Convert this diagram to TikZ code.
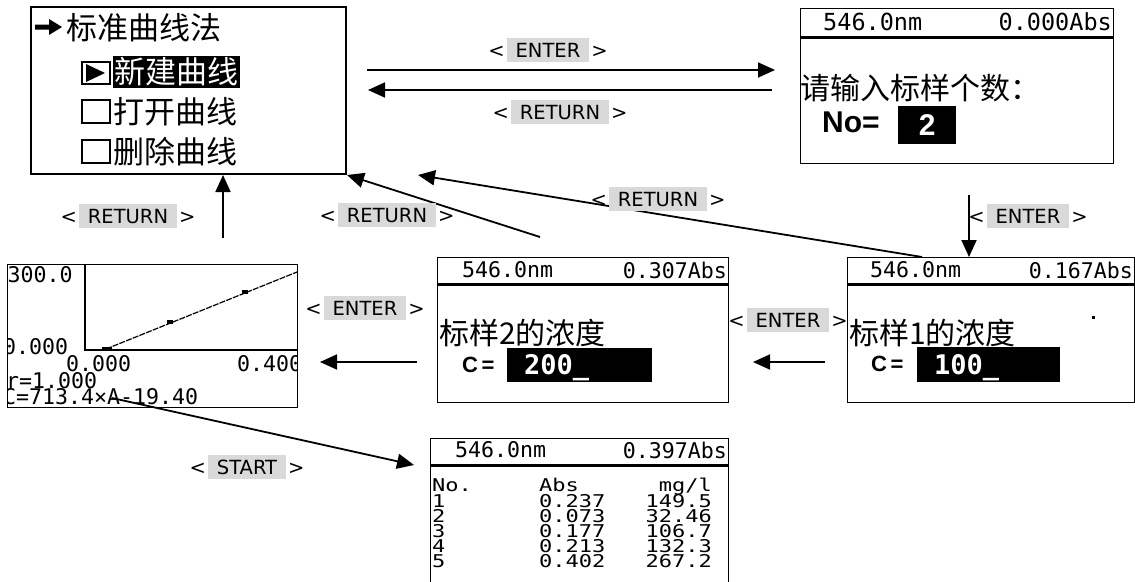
\documentclass[tikz,border=0pt]{standalone}
\usepackage{fontspec}
\usepackage{xcolor}
\usepackage{graphicx}
\usepackage{tikz}
\usetikzlibrary{arrows.meta, positioning, calc}
\newfontfamily\cjk{Noto Sans CJK SC}
\newfontfamily\lcd{DejaVu Sans Mono}
\newfontfamily\keyfont{DejaVu Sans}
\newfontfamily\boldsans{Liberation Sans}
\definecolor{keygray}{RGB}{217,217,217}
\setlength{\fboxsep}{0pt}
\newcommand{\keyname}[1]{<\hspace{2pt}\colorbox{keygray}{\rule[-5pt]{0pt}{24pt}\hspace{9pt}#1\hspace{9pt}}\hspace{2pt}>}
\newcommand{\squash}[1]{\scalebox{1}[0.8]{#1}}

\begin{document}
\begin{tikzpicture}[x=1pt, y=-1pt,
  screen/.style={draw, line width=1.3pt, inner sep=0pt, anchor=north west},
  hdrline/.style={line width=3pt},
  flow/.style={line width=1.8pt, -{Triangle[length=17pt, width=15pt]}},
  keylabel/.style={font=\keyfont\fontsize{19.5}{22}\selectfont, inner sep=0pt},
  lcdtext/.style={font=\lcd\fontsize{21.6}{22}\selectfont, inner sep=0pt},
  tabtext/.style={font=\lcd\fontsize{22}{22}\selectfont, inner sep=0pt},
  zh/.style={font=\cjk\fontsize{30}{32}\selectfont, inner sep=0pt},
  menutext/.style={font=\cjk\fontsize{31}{33}\selectfont, inner sep=0pt},
  boldtext/.style={font=\boldsans\bfseries\fontsize{22}{24}\selectfont, inner sep=0pt},
  fieldtext/.style={font=\lcd\bfseries\fontsize{27}{28}\selectfont, text=white, inner sep=0pt},
  field/.style={fill=black, inner sep=0pt, anchor=north west}]
  \useasboundingbox (0,0) rectangle (1135,581);
  % ================================================================
  % main menu
  % ================================================================
  \node[draw, line width=2.2pt, anchor=north west, minimum width=315, minimum height=167, inner sep=0pt] (menu) at (30,6) {};
  \fill (35,24.5) -- (49,24.5) -- (49,19) -- (62,27) -- (49,35) -- (49,29.5) -- (35,29.5) -- cycle;
  \node[menutext, anchor=west] (method) at (66,28) {标准曲线法};
  \node[menutext, fill=black, text=white, minimum width=127, minimum height=32, anchor=west] (newcurve) at (113,72) {新建曲线};
  \node[menutext, anchor=west] (opencurve) at (113,112) {打开曲线};
  \node[menutext, anchor=west] (delcurve) at (113,152) {删除曲线};
  % check boxes ----------------------------------------------------
  \draw[line width=1.5pt] (82,62) rectangle (110,84);
  \fill (86,64) -- (86,82) -- (105,73) -- cycle;
  \draw[line width=1.5pt] (82,100) rectangle (110,123);
  \draw[line width=1.5pt] (82,140) rectangle (110,163);
  % ================================================================
  % number of standards
  % ================================================================
  \node[screen, minimum width=313, minimum height=155] (askno) at (800,8) {};
  \draw[hdrline] (800,37) -- (1113,37);
  \node[lcdtext, font=\lcd\fontsize{23.5}{24}\selectfont, anchor=west] (wl0) at (823,22) {546.0nm};
  \node[lcdtext, font=\lcd\fontsize{23.5}{24}\selectfont, anchor=east] (abs0) at (1112,22) {0.000Abs};
  \node[zh, anchor=west] (ask) at (800,88) {请输入标样个数：};
  \node[boldtext, font=\boldsans\bfseries\fontsize{30}{32}\selectfont, anchor=west] (noeq) at (822,122) {No=};
  \node[field, minimum width=58, minimum height=38, text=white, font=\boldsans\bfseries\fontsize{30}{32}\selectfont] (nofield) at (898,106) {2};
  % ================================================================
  % standard 1
  % ================================================================
  \node[screen, minimum width=287, minimum height=145] (smp1) at (847,257) {};
  \draw[hdrline] (847,284) -- (1134,284);
  \node[lcdtext, anchor=west] (wl1) at (870,270) {546.0nm};
  \node[lcdtext, anchor=east] (abs1) at (1133,270) {0.167Abs};
  \node[zh, anchor=west] (prompt1) at (849,333) {标样1的浓度};
  \node[boldtext, anchor=west] (ceq1) at (871,364) {C\,=};
  \node[field, minimum width=143, minimum height=35] (cfield1) at (917,347) {};
  \node[fieldtext, anchor=base west] (cval1) at (934,374) {100\_};
  \fill (1092,316) rectangle (1095,319);
  % ================================================================
  % standard 2
  % ================================================================
  \node[screen, minimum width=291, minimum height=145] (smp2) at (437,257) {};
  \draw[hdrline] (437,284) -- (728,284);
  \node[lcdtext, anchor=west] (wl2) at (462,270) {546.0nm};
  \node[lcdtext, anchor=east] (abs2) at (727,270) {0.307Abs};
  \node[zh, anchor=west] (prompt2) at (439,333) {标样2的浓度};
  \node[boldtext, anchor=west] (ceq2) at (462,365) {C\,=};
  \node[field, minimum width=145, minimum height=34] (cfield2) at (507,348) {};
  \node[fieldtext, anchor=base west] (cval2) at (524,374) {200\_};
  % ================================================================
  % calibration curve
  % ================================================================
  \node[screen, minimum width=290, minimum height=143] (graph) at (7,264) {};
  \begin{scope}
    \clip (7,264) rectangle (297,407);
    \draw[line width=1.5pt] (85,264) -- (85,350) -- (297,350);
    \draw[line width=1.2pt, dash pattern=on 6pt off 1.2pt] (106,349) -- (297,272);
    \fill (102,347) rectangle (112,351);
    \fill (167,320) rectangle (173,324);
    \fill (242,290) rectangle (248,294);
    \node[lcdtext, anchor=west] (ymax) at (7.5,275) {300.0};
    \node[lcdtext, anchor=west] (ymin) at (3,347) {0.000};
    \node[lcdtext, anchor=west] (xmin) at (66,364) {0.000};
    \node[lcdtext, anchor=west] (xmax) at (237,364) {0.400};
    \node[lcdtext, anchor=west] (corr) at (6,381) {r=1.000};
    \node[lcdtext, anchor=west] (fitline) at (3,397) {C=713.4×A-19.40};
  \end{scope}
  % ================================================================
  % results
  % ================================================================
  \node[screen, minimum width=298, minimum height=160] (result) at (430,438) {};
  \draw[hdrline] (430,465) -- (728,465);
  \node[lcdtext, anchor=west] (wl3) at (455,450) {546.0nm};
  \node[lcdtext, anchor=east] (abs3) at (727,450) {0.397Abs};
  \node[tabtext, anchor=base west] (hno) at (432,491) {\squash{No.}};
  \node[tabtext, anchor=base west] (habs) at (539,491) {\squash{Abs}};
  \node[tabtext, anchor=base east] (hconc) at (712,491) {\squash{mg/l}};
  \foreach \a/\c [count=\i] in {0.237/149.5, 0.073/32.46, 0.177/106.7, 0.213/132.3, 0.402/267.2} {
    \node[tabtext, anchor=base west] (no\i) at (432,{492.5+15*\i}) {\squash{\i}};
    \node[tabtext, anchor=base west] (a\i) at (539,{492.5+15*\i}) {\squash{\a}};
    \node[tabtext, anchor=base east] (c\i) at (712,{492.5+15*\i}) {\squash{\c}};
  }
  % ================================================================
  % key presses
  % ================================================================
  \coordinate (enterA) at (367,70);  \coordinate (enterB) at (775,70);
  \coordinate (retA) at (772,90);    \coordinate (retB) at (368,90);
  \coordinate (upA) at (223,238);    \coordinate (upB) at (223,175);
  \coordinate (diagA) at (540,237);  \coordinate (diagB) at (347,175);
  \coordinate (longA) at (922,257);  \coordinate (longB) at (418,175);
  \coordinate (downA) at (969,195);  \coordinate (downB) at (969,257);
  \coordinate (midA) at (825,362);   \coordinate (midB) at (753,362);
  \coordinate (leftA) at (417,362);  \coordinate (leftB) at (320,362);
  \coordinate (startA) at (112,398); \coordinate (startB) at (414,465);
  \foreach \p in {enter, ret, up, diag, long, down, mid, left, start}
    \draw[flow] (\p A) -- (\p B);
  % labels ---------------------------------------------------------
  \node[keylabel] (kenter1) at (548,50) {\keyname{ENTER}};
  \node[keylabel] (kreturn1) at (560,112) {\keyname{RETURN}};
  \node[keylabel] (kreturn2) at (128,216) {\keyname{RETURN}};
  \node[keylabel] (kreturn3) at (387,215) {\keyname{RETURN}};
  \node[keylabel] (kreturn4) at (658,199) {\keyname{RETURN}};
  \node[keylabel] (kenter2) at (1028,216) {\keyname{ENTER}};
  \node[keylabel] (kenter3) at (788,320) {\keyname{ENTER}};
  \node[keylabel] (kenter4) at (365,308) {\keyname{ENTER}};
  \node[keylabel] (kstart) at (247,467) {\keyname{START}};
\end{tikzpicture}
\end{document}
